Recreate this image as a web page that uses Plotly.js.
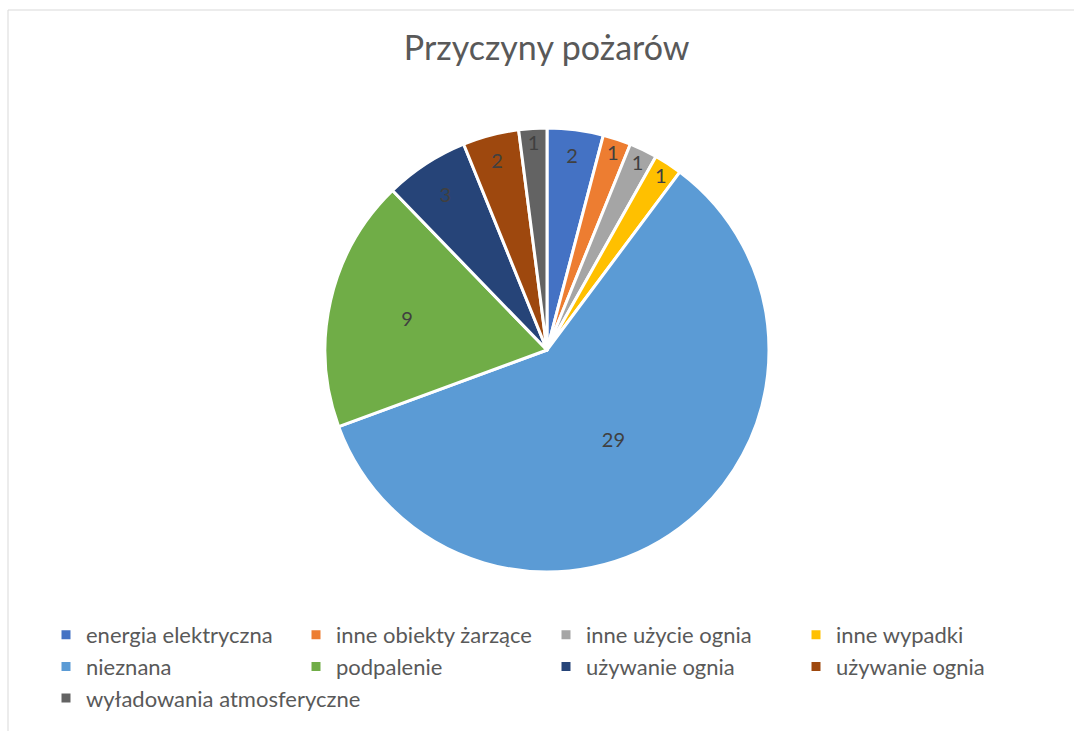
<!DOCTYPE html>
<html>
<head>
<meta charset="utf-8">
<script src="https://cdn.plot.ly/plotly-3.0.1.min.js"></script>
<style>html,body{margin:0;padding:0;background:#fff;}#chart{width:1074px;height:731px;}</style>
</head>
<body>
<div id="chart"></div>
<script>
const categories = ["energia elektryczna","inne obiekty żarzące","inne użycie ognia","inne wypadki","nieznana","podpalenie","używanie ognia","używanie ognia ","wyładowania atmosferyczne"];
const values = [2,1,1,1,29,9,3,2,1];
const colors = ["#4472C4","#ED7D31","#A5A5A5","#FFC000","#5B9BD5","#70AD47","#264478","#9E480E","#636363"];
const chartTitle = "Przyczyny pożarów";

const W = 1074, H = 731;
const cx = 547, cy = 350, r = 222;

const trace = {
  type: "pie",
  labels: categories,
  values: values,
  sort: false,
  direction: "clockwise",
  rotation: 0,
  marker: {colors: colors, line: {color: "#ffffff", width: 3}},
  textinfo: "value",
  textposition: "inside",
  insidetextorientation: "horizontal",
  textfont: {family: "Lato, 'Open Sans', sans-serif", size: 20, color: "#404040"},
  hoverinfo: "label+value",
  domain: {x: [(cx - r) / W, (cx + r) / W], y: [1 - (cy + r) / H, 1 - (cy - r) / H]}
};

const layout = {
  width: W, height: H,
  margin: {l: 0, r: 0, t: 0, b: 0},
  paper_bgcolor: "#ffffff",
  font: {family: "Lato, 'Open Sans', sans-serif", color: "#595959"},
  title: {text: chartTitle, x: 0.509, xanchor: "center", y: 1 - 48 / H, yanchor: "middle",
          font: {family: "Lato, 'Open Sans', sans-serif", size: 34, color: "#595959"}},
  showlegend: true,
  legend: {
    orientation: "h",
    x: 46 / W, xanchor: "left",
    y: 1 - 614 / H, yanchor: "top",
    entrywidth: 205, entrywidthmode: "pixels",
    font: {family: "Lato, 'Open Sans', sans-serif", size: 22, color: "#595959"},
    traceorder: "normal",
    itemclick: false
  },
  shapes: [{type: "rect", xref: "paper", yref: "paper",
            x0: 8 / W, x1: 1.02, y0: -0.02, y1: 1 - 10 / H,
            line: {color: "#D9D9D9", width: 1}, fillcolor: "rgba(0,0,0,0)"}]
};

Plotly.newPlot("chart", [trace], layout, {displayModeBar: false, staticPlot: true});
</script>
</body>
</html>
